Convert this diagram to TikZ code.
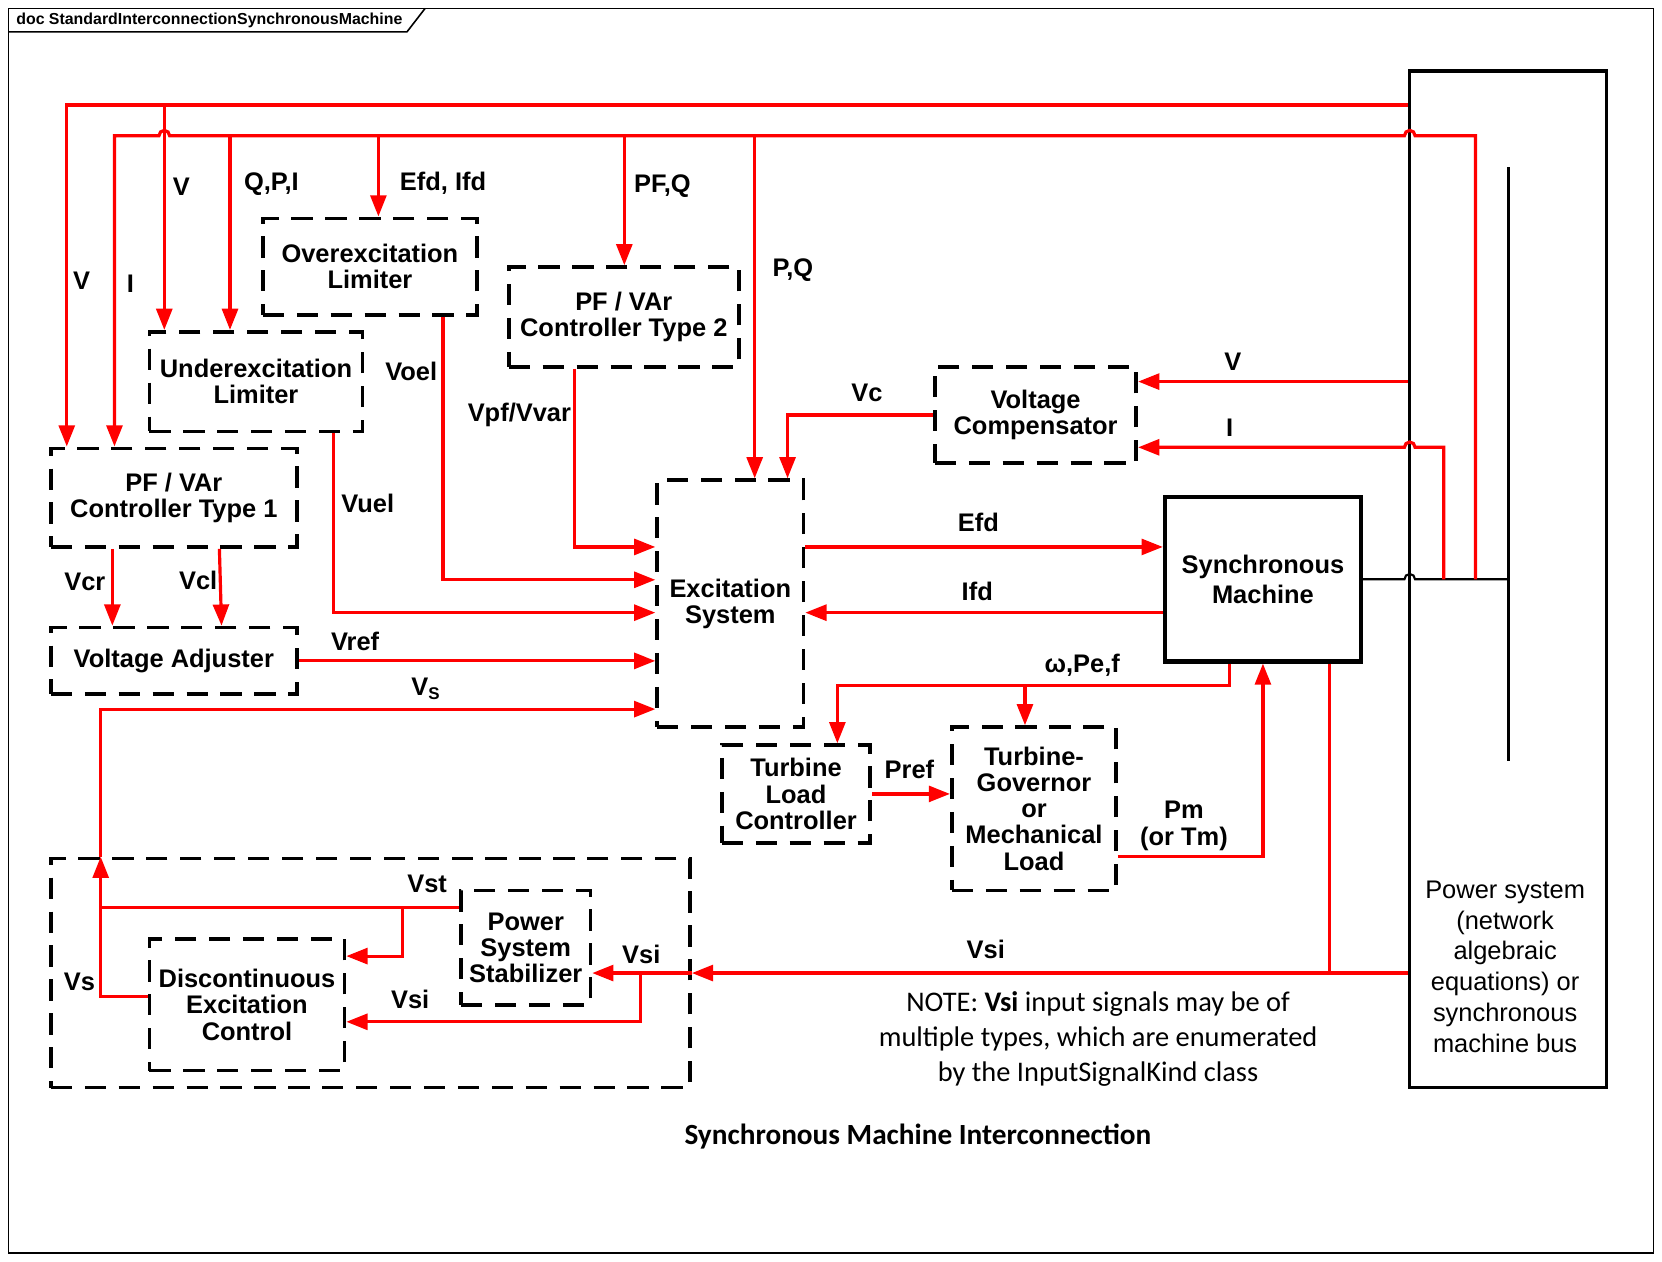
\documentclass[tikz,border=0pt]{standalone}
\usepackage{fontspec}
\setmainfont{Liberation Sans}
\newfontfamily\notefont{Carlito}
\usetikzlibrary{arrows.meta}
\usetikzlibrary{positioning}

\begin{document}
\begin{tikzpicture}[x=0.5pt,y=-0.5pt]
      \tikzstyle{block} = [draw, line width=1.75pt, dash pattern=on 10pt off 6pt, inner sep=0pt, align=center, font=\fontsize{12}{12.3}\selectfont\bfseries]
      \tikzstyle{solidblock} = [draw, line width=2pt, inner sep=0pt, align=center, font=\fontsize{12}{14}\selectfont\bfseries]
      \tikzstyle{lbl} = [inner sep=0pt, align=center, font=\fontsize{12}{12.5}\selectfont\bfseries]
      \tikzstyle{sig} = [red, line width=1.5pt]
      \tikzstyle{arr} = [sig, -{Triangle[length=10pt,width=7.5pt]}]

      \useasboundingbox (0,0) rectangle (1568,1190);
      \fill[white] (0,0) rectangle (1568,1190);

      % frame and tab
      \draw[line width=0.75pt] (8,8) rectangle (1560,1182);
      \draw[line width=0.75pt] (8,30) -- (384,30) -- (401,8);
      \node (tab) [anchor=west, inner sep=0pt, font=\bfseries\fontsize{7.5}{9}\selectfont] at (15,19) {doc StandardInterconnectionSynchronousMachine};

      % blocks
      \node (oel) [block, minimum width=101pt, minimum height=45.5pt] at (349,251.5) {Overexcitation\\Limiter};
      \node (uel) [block, minimum width=100.5pt, minimum height=47pt] at (241.5,360) {Underexcitation\\Limiter};
      \node (pf2) [block, minimum width=108.5pt, minimum height=47pt] at (588.5,299) {PF / VAr\\Controller Type 2};
      \node (pf1) [block, minimum width=116pt, minimum height=46.5pt] at (164,469.5) {PF / VAr\\Controller Type 1};
      \node (vadj) [block, minimum width=116pt, minimum height=31.5pt] at (164,623.5) {Voltage Adjuster};
      \node (exc) [block, minimum width=69pt, minimum height=116.5pt] at (689,569.5) {Excitation\\System};
      \node (vcomp) [block, minimum width=95pt, minimum height=45.5pt] at (977,391.5) {Voltage\\Compensator};
      \node (sm) [solidblock, minimum width=92.5pt, minimum height=77.5pt] at (1191.5,546.5) {Synchronous\\Machine};
      \node (tlc) [block, minimum width=70pt, minimum height=46pt] at (751,749) {Turbine\\Load\\Controller};
      \node (tgov) [block, minimum width=77.5pt, minimum height=77pt] at (975.5,763) {Turbine-\\Governor\\or\\Mechanical\\Load};
      \node (grp) [block, minimum width=301.5pt, minimum height=108pt] at (349.5,918) {};
      \node (pss) [block, minimum width=61pt, minimum height=54pt] at (496,894) {Power\\System\\Stabilizer};
      \node (dec) [block, minimum width=92pt, minimum height=62pt] at (233,948) {Discontinuous\\Excitation\\Control};

      % power system and bus
      \node (psys) [draw, line width=1.5pt, minimum width=93pt, minimum height=479.5pt] at (1423,546.5) {};
      \node (psystext) [align=center, inner sep=0pt, font=\fontsize{12}{14.5}\selectfont] at (1420,912) {Power system\\(network\\algebraic\\equations) or\\synchronous\\machine bus};
      \coordinate (busTop) at (1423,158);
      \coordinate (busBot) at (1423,718);
      \draw[line width=1.5pt] (busTop) -- (busBot);
      \draw[line width=1pt] (sm.east) -- (1325,546.5) arc[start angle=180, end angle=0, radius=2.5pt] -- (sm.east -| busTop);

      % measurement lines at the top
      \coordinate (busV) at (63,99);
      \coordinate (busI) at (108,128);
      \draw[arr] (psys.west |- busV) -| (pf1.north -| busV);
      \draw[arr] (busV -| 155,0) -- (uel.north -| 155,0);
      \draw[arr] (sm.east -| 1392,0) -- (1392,128) -- (1335,128) arc[start angle=0, end angle=180, radius=2.5pt]
            -- (160,128) arc[start angle=0, end angle=180, radius=2.5pt] -- (busI) -- (pf1.north -| busI);
      \draw[arr] (busI -| 217,0) -- (uel.north -| 217,0);
      \draw[arr] (busI -| 357,0) -- (oel.north -| 357,0);
      \draw[arr] (busI -| 589,0) -- (pf2.north -| 589,0);
      \draw[arr] (busI -| 712,0) -- (exc.north -| 712,0);

      % voltage compensator
      \draw[arr] (psys.west |- 0,360) -- (vcomp.east |- 0,360);
      \draw[arr] (sm.east -| 1362,0) -- (1362,422) -- (1335,422) arc[start angle=0, end angle=180, radius=2.5pt] -- (vcomp.east |- 0,422);
      \draw[arr] (vcomp.west) -| (exc.north -| 743,0);

      % inputs of the excitation system
      \draw[arr] (pf2.south -| 542,0) |- (exc.west |- 0,516);
      \draw[arr] (oel.south -| 418,0) |- (exc.west |- 0,547);
      \draw[arr] (uel.south -| 315,0) |- (exc.west |- 0,578);
      \draw[arr] (vadj.east) -- (exc.west |- vadj.east);
      \draw[arr] (pf1.south -| 106,0) -- (vadj.north -| 106,0);
      \draw[arr] (pf1.south -| 207,0) -- (vadj.north -| 209,0);

      % stabilizer group
      \coordinate (vsjoin) at (95,856);
      \draw[arr] (dec.west |- 0,940) -| (grp.north -| vsjoin);
      \draw[arr] (grp.north -| vsjoin) |- (exc.west |- 0,669);
      \draw[sig] (pss.west |- vsjoin) -- (vsjoin);
      \draw[arr] (vsjoin -| 380,0) |- (dec.east |- 0,902);
      \draw[arr] (psys.west |- 0,918) -- (grp.east |- 0,918);
      \draw[sig] (sm.south -| 1254,0) -- (1254,918);
      \draw[arr] (grp.east |- 0,918) -- (pss.east |- 0,918);
      \draw[arr] (604,918) |- (dec.east |- 0,964);

      % machine and turbine
      \draw[arr] (exc.east |- 0,516) -- (sm.west |- 0,516);
      \draw[arr] (sm.west |- 0,578) -- (exc.east |- 0,578);
      \draw[arr] (sm.south -| 1160,0) |- (790,647) -- (tlc.north -| 790,0);
      \draw[arr] (967,647) -- (tgov.north -| 967,0);
      \draw[arr] (tlc.east) -- (tgov.west |- tlc.east);
      \draw[arr] (tgov.east |- 0,808) -| (sm.south);

      % signal labels
      \node (lV1) [lbl] at (171,176) {V};
      \node (lQPI) [lbl] at (256,174) {Q,P,I};
      \node (lEI) [lbl] at (418,173) {Efd, Ifd};
      \node (lPFQ) [lbl] at (625,176) {PF,Q};
      \node (lPQ) [lbl] at (748,255) {P,Q};
      \node (lV2) [lbl] at (77,265) {V};
      \node (lI1) [lbl] at (123,268) {I};
      \node (lVoel) [lbl] at (388,350) {Voel};
      \node (lVuel) [lbl] at (347,475) {Vuel};
      \node (lVpf) [lbl] at (490,391) {Vpf/Vvar};
      \node (lVcr) [lbl] at (80,549) {Vcr};
      \node (lVcl) [lbl] at (187,548) {Vcl};
      \node (lVref) [lbl] at (335,605) {Vref};
      \node (lVS) [lbl] at (402,650) {V\textsubscript{S}};
      \node (lVc) [lbl] at (818,371) {Vc};
      \node (lV3) [lbl] at (1163,341) {V};
      \node (lI2) [lbl] at (1160,404) {I};
      \node (lEfd) [lbl] at (923,493) {Efd};
      \node (lIfd) [lbl] at (922,558) {Ifd};
      \node (lw) [lbl] at (1021,628) {ω,Pe,f};
      \node (lPref) [lbl] at (858,726) {Pref};
      \node (lPm) [lbl] at (1117,779) {Pm\\(or Tm)};
      \node (lVst) [lbl] at (403,834) {Vst};
      \node (lVsi1) [lbl] at (605,900) {Vsi};
      \node (lVsi2) [lbl] at (387,943) {Vsi};
      \node (lVs) [lbl] at (75,926) {Vs};
      \node (lVsi3) [lbl] at (930,896) {Vsi};

      % note and caption
      \node (note) [align=center, inner sep=0pt, font=\notefont\fontsize{13.4}{16.5}\selectfont] at (1036,980) {NOTE: \textbf{Vsi} input signals may be of\\multiple types, which are enumerated\\by the InputSignalKind class};
      \node (title) [inner sep=0pt, font=\notefont\bfseries\fontsize{13.8}{16}\selectfont] at (866,1072) {Synchronous Machine Interconnection};
    \end{tikzpicture}
\end{document}
